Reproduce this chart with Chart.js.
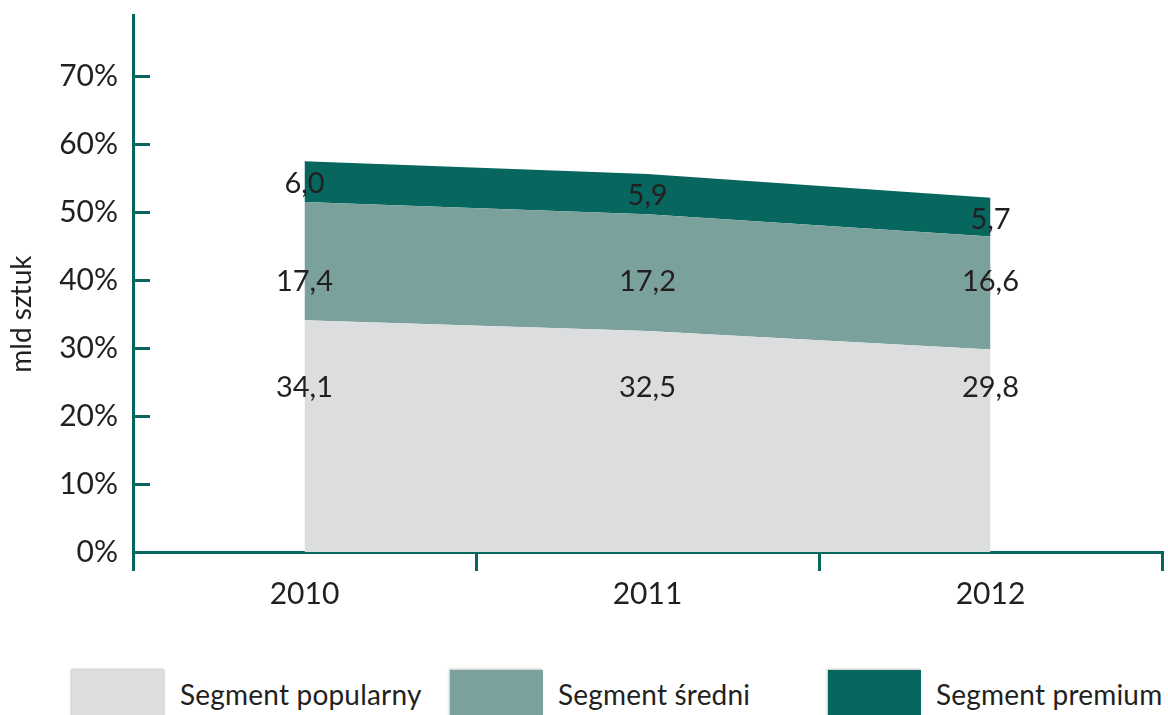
<!DOCTYPE html>
<html lang="pl">
<head>
<meta charset="utf-8">
<title>Segmenty rynku</title>
<script src="https://cdn.jsdelivr.net/npm/chart.js@4.4.1/dist/chart.umd.min.js"></script>
<style>
  html, body { margin: 0; padding: 0; background: #fff; overflow: hidden; }
  #wrap { position: relative; width: 1168px; height: 640px; }
  #legenda { position: absolute; left: 0; top: 670px; width: 1168px; height: 45px; font-family: Lato, sans-serif; }
  .item { position: absolute; top: 0; }
  .box { position: absolute; left: 0; top: 0; width: 93px; height: 50px; box-shadow: -1px -1px 2px rgba(0,0,0,0.25); }
  .txt { position: absolute; left: 108px; top: 7px; font-size: 28px; color: #231f20; white-space: nowrap; letter-spacing: 0.2px; }
</style>
</head>
<body>
<div id="wrap"><canvas id="wykres"></canvas></div>
<div id="legenda"></div>
<script>
// dane (mld sztuk)
const lata = ['2010', '2011', '2012'];
const segPopularny = [34.1, 32.5, 29.8];
const segSredni = [17.4, 17.2, 16.6];
const segPremium = [6.0, 5.9, 5.7];
const nazwy = ['Segment popularny', 'Segment średni', 'Segment premium'];
const ticksY = [0, 10, 20, 30, 40, 50, 60, 70];

const kolory = ['#dcdddf', '#7ba19d', '#07665e'];
const kolorOsi = '#07665e';
const kolorTekstu = '#231f20';
const font = 'Lato, sans-serif';

const fmt = v => v.toFixed(1).replace('.', ',');

// male kreski na osi Y (do srodka), tytul osi i etykiety wartosci
const dodatki = {
  id: 'dodatki',
  afterDatasetsDraw(chart) {
    const { ctx, chartArea, scales: { y } } = chart;
    ctx.save();
    ctx.strokeStyle = kolorOsi;
    ctx.lineWidth = 3;
    ticksY.forEach(v => {
      if (v === 0) return;
      const py = Math.round(y.getPixelForValue(v)) + 0.5;
      ctx.beginPath();
      ctx.moveTo(chartArea.left, py);
      ctx.lineTo(chartArea.left + 17, py);
      ctx.stroke();
    });

    ctx.fillStyle = kolorTekstu;
    ctx.font = '29px ' + font;
    ctx.textAlign = 'center';
    ctx.textBaseline = 'middle';
    chart.data.datasets.forEach((ds, i) => {
      const meta = chart.getDatasetMeta(i);
      meta.data.forEach((pt, j) => {
        let py;
        if (ds.etykietaY === 'srodek') {
          const dol = chart.data.datasets.slice(0, i).reduce((s, d) => s + d.data[j], 0);
          py = y.getPixelForValue(dol + ds.data[j] / 2);
        } else {
          py = y.getPixelForValue(ds.etykietaY);
        }
        ctx.fillText(fmt(ds.data[j]), pt.x, py + 2);
      });
    });

    ctx.translate(22, y.getPixelForValue(35));
    ctx.rotate(-Math.PI / 2);
    ctx.font = '28px ' + font;
    ctx.fillText('mld sztuk', 0, 0);
    ctx.restore();
  }
};

const datasets = [
  { label: nazwy[0], data: segPopularny, backgroundColor: kolory[0], fill: 'origin', etykietaY: 24.5 },
  { label: nazwy[1], data: segSredni, backgroundColor: kolory[1], fill: '-1', etykietaY: 40 },
  { label: nazwy[2], data: segPremium, backgroundColor: kolory[2], fill: '-1', etykietaY: 'srodek' }
].map(d => Object.assign(d, { borderWidth: 0, pointRadius: 0, tension: 0 }));

new Chart(document.getElementById('wykres'), {
  type: 'line',
  data: { labels: lata, datasets },
  plugins: [dodatki],
  options: {
    responsive: true,
    maintainAspectRatio: false,
    animation: false,
    layout: { padding: { top: 15, right: 6, left: 0, bottom: 0 } },
    plugins: { legend: { display: false }, tooltip: { enabled: false } },
    scales: {
      x: {
        offset: true,
        grid: { display: true, drawOnChartArea: false, drawTicks: true, tickLength: 19, lineWidth: 3, color: kolorOsi, offset: true },
        border: { display: true, width: 3, color: kolorOsi },
        ticks: { color: kolorTekstu, font: { family: font, size: 30 }, padding: 5 },
        afterFit: s => { s.height = 88; s.paddingLeft = 0; s.paddingRight = 0; }
      },
      y: {
        stacked: true,
        min: 0,
        max: 79,
        afterBuildTicks: s => { s.ticks = ticksY.map(v => ({ value: v })); },
        grid: { display: false, drawTicks: false },
        border: { display: true, width: 3, color: kolorOsi },
        ticks: { color: kolorTekstu, font: { family: font, size: 30 }, padding: 15, callback: v => v + '%' },
        afterFit: s => { s.width = 133; s.paddingTop = 0; s.paddingBottom = 0; }
      }
    }
  }
});

// legenda pod wykresem
const legenda = document.getElementById('legenda');
nazwy.forEach((n, i) => {
  const el = document.createElement('div');
  el.className = 'item';
  el.style.left = (72 + i * 378) + 'px';
  el.innerHTML = `<div class="box" style="background:${kolory[i]}"></div><div class="txt">${n}</div>`;
  legenda.appendChild(el);
});
</script>
</body>
</html>
